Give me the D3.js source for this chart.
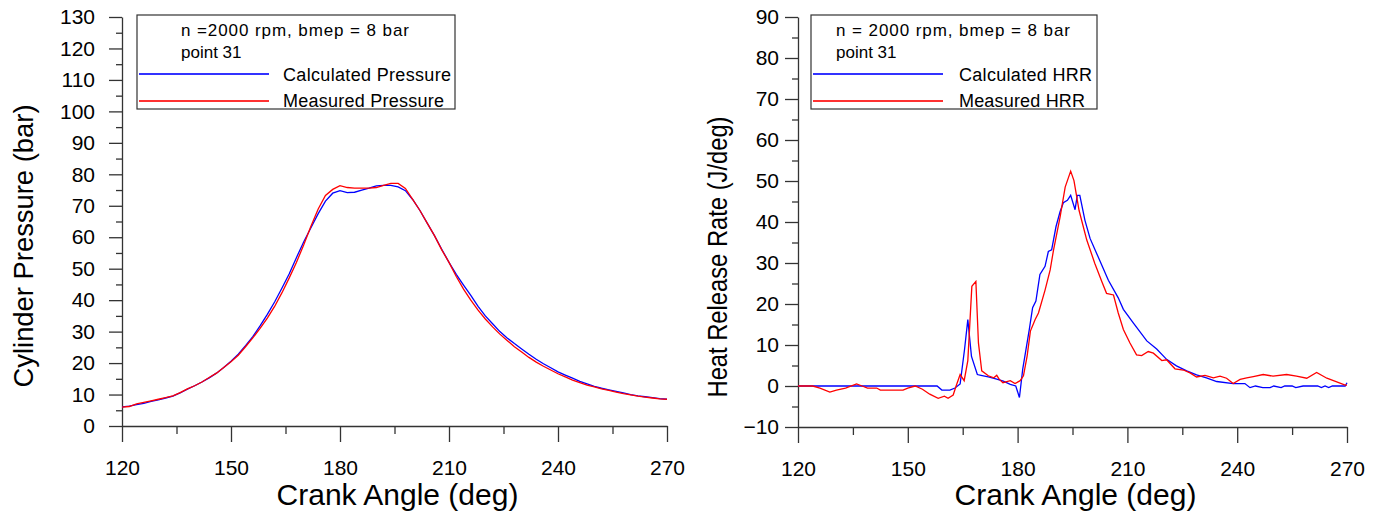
<!DOCTYPE html>
<html>
<head>
<meta charset="utf-8">
<script src="https://cdn.jsdelivr.net/npm/d3@7"></script>
<style>
  html, body { margin: 0; padding: 0; background: #fff; }
  svg { display: block; }
  text { font-family: Arial, "Liberation Sans", sans-serif; fill: #000; }
</style>
</head>
<body>
<svg id="chart" width="1383" height="515"></svg>
<script>
// ---------- Data ----------
const pressureAngles = [120,122,124,126,128,130,132,134,136,138,140,142,144,146,148,150,152,154,156,158,160,162,164,166,168,170,172,174,176,178,180,182,184,186,188,190,192,194,196,198,200,202,204,206,208,210,212,214,216,218,220,222,224,226,228,230,232,234,236,238,240,242,244,246,248,250,252,254,256,258,260,262,264,266,268,270];
const calculatedPressure = [6.1,6.3,6.8,7.2,7.8,8.3,8.9,9.5,10.5,11.7,12.8,14.0,15.3,16.8,18.6,20.6,22.8,25.5,28.4,31.8,35.5,39.4,43.8,48.3,53.5,58.5,63.0,67.5,71.5,74.0,74.8,74.2,74.3,75.0,75.6,76.3,76.5,76.5,76.0,74.8,72.0,68.5,64.5,60.5,56.2,52.0,48.2,44.8,41.5,38.0,35.0,32.5,30.0,28.0,26.2,24.5,22.8,21.2,19.8,18.5,17.2,16.2,15.2,14.2,13.4,12.6,12.0,11.5,11.0,10.5,10.0,9.6,9.3,9.0,8.7,8.5];
const measuredPressure = [6.0,6.2,7.0,7.5,8.0,8.5,9.0,9.6,10.6,11.8,12.8,14.0,15.4,16.8,18.6,20.4,22.5,25.2,28.0,31.0,34.3,38.0,42.3,47.0,52.0,57.5,63.5,69.0,73.3,75.2,76.4,75.8,75.6,75.6,75.6,75.8,76.5,77.1,77.1,75.5,72.0,68.5,64.5,60.5,56.0,52.0,47.5,43.5,40.0,36.8,34.0,31.5,29.2,27.2,25.2,23.5,21.8,20.3,19.0,17.8,16.6,15.6,14.6,13.8,13.0,12.4,11.8,11.3,10.8,10.3,9.9,9.5,9.2,8.9,8.6,8.5];

const hrrCalcAngles = [120,158,159.3,161.5,162.9,164.3,165.5,166.4,167.4,169,170,172,174.3,176.1,178,179.5,180.5,181.4,183.2,184.1,185,186.1,187.5,188.4,189.3,190.5,191.6,192.5,193.6,194.5,195.7,196.3,197,198.4,199.8,202,204.8,207.5,208.9,211.6,215.3,218,220.7,223.4,226.2,228.9,231.6,234.4,238.9,242.1,243.5,245,247,249,250,252,253,255,256,258,262,263,264,265,266,269.5,270];
const calculatedHRR = [0,0,-1,-1,-0.5,0.5,8.9,16.2,7.2,2.8,2.6,2.2,1.7,1.2,0.4,0,-2.8,4.1,13.8,19.1,20.7,27.2,29.2,32.8,33.2,38.9,42.5,44.7,45.3,46.5,43,46.5,46.5,40.4,36,31.5,25.8,21.5,18.7,15.4,11,9,6.5,4.9,3.7,2.7,2,1.1,0.6,0.6,-0.4,0,-0.4,-0.4,0,-0.4,0,0,-0.4,0,0,-0.4,0,-0.4,0,0,0.8];

const hrrMeasAngles = [120,124,126,128.7,130.5,133,136,137.5,139,141.5,142.5,148.7,150,152,154,156,158.3,160,161,162.4,163.2,164.3,165.4,166.4,167.5,168.6,169.3,170.2,172,173.5,174.3,175,176,178,179.3,180.7,181.6,182.6,183.5,184.8,185.7,187.5,188.9,189.8,191.6,193,194.5,195.4,196.8,198.9,201.1,203,204.3,206.2,207.5,208.9,210.7,212.5,213.9,215.7,217.1,219.4,220.7,223,225.3,227.1,228.9,231.2,233.5,235.3,237.1,238.9,240.8,242.6,244.4,247.1,249.8,253.5,256.2,259,261.7,264.5,267.2,269.5,270];
const measuredHRR = [0,0,-0.5,-1.5,-1,-0.5,0.5,0,-0.5,-0.5,-1,-1,-0.5,0,-0.8,-2,-3,-2.5,-3,-2.2,0,2.8,1.3,6.2,24.3,25.5,10.5,3.7,2.5,2,2.6,1.6,0.8,1.3,0.6,1.3,2.5,7.3,13.4,16.2,17.8,23.4,28.3,33.1,41.2,48.5,52.4,50.1,42.8,35.6,29.9,25.5,22.6,22.2,17.8,13.8,10.5,7.6,7.4,8.4,8,6.2,6.4,4.2,3.9,3.2,2.2,2.6,2,2.4,1.9,0.6,1.6,2,2.3,2.8,2.4,2.8,2.4,1.9,3.3,1.9,1,0.2,0.2];

const xTicksMajor = [120,150,180,210,240,270];
const xTicksMinor = [135,165,195,225,255];
const pressureTicksMajor = [0,10,20,30,40,50,60,70,80,90,100,110,120,130];
const pressureTicksMinor = [5,15,25,35,45,55,65,75,85,95,105,115,125];
const hrrTicksMajor = [-10,0,10,20,30,40,50,60,70,80,90];
const hrrTicksMinor = [-5,5,15,25,35,45,55,65,75,85];

const legendHeader1 = "n =2000 rpm, bmep = 8 bar";
const legendHeader2 = "n = 2000 rpm, bmep = 8 bar";
const legendPoint = "point 31";
const seriesNames1 = ["Calculated Pressure", "Measured Pressure"];
const seriesNames2 = ["Calculated HRR", "Measured HRR"];
const seriesColors = ["rgb(0,0,255)", "rgb(255,0,0)"];

// ---------- Drawing ----------
const svg = d3.select("#chart");
const axisColor = "#333";

function drawPanel(cfg) {
  const g = svg.append("g");
  const x = d3.scaleLinear().domain([120, 270]).range(cfg.xRange);
  const y = d3.scaleLinear().domain(cfg.yDomain).range(cfg.yRange);

  // minor y ticks
  g.append("g").attr("class", "ax").attr("transform", `translate(${cfg.xRange[0]},0)`)
    .call(d3.axisLeft(y).tickValues(cfg.yMinor).tickSize(6).tickSizeOuter(0).tickFormat(""))
    .call(s => s.select(".domain").remove());
  // major y ticks
  const ya = g.append("g").attr("class", "ax").attr("transform", `translate(${cfg.xRange[0]},0)`)
    .call(d3.axisLeft(y).tickValues(cfg.yMajor).tickSize(13).tickSizeOuter(0).tickPadding(cfg.yPad));
  ya.selectAll("text").style("font-size", "21px");

  // minor x ticks
  g.append("g").attr("class", "ax").attr("transform", `translate(0,${cfg.yRange[0]})`)
    .call(d3.axisBottom(x).tickValues(xTicksMinor).tickSize(8).tickSizeOuter(0).tickFormat(""))
    .call(s => s.select(".domain").remove());
  const xa = g.append("g").attr("class", "ax").attr("transform", `translate(0,${cfg.yRange[0]})`)
    .call(d3.axisBottom(x).tickValues(xTicksMajor).tickSize(16).tickSizeOuter(0).tickPadding(18));
  xa.selectAll("text").style("font-size", "21px");

  g.selectAll(".ax .domain, .ax .tick line").attr("stroke", axisColor).attr("stroke-width", 1.3);

  // lines
  const line = d3.line().x(d => x(d[0])).y(d => y(d[1]));
  cfg.series.forEach((s, i) => {
    const pts = s.angles.map((a, k) => [a, s.values[k]]);
    g.append("path").datum(pts).attr("d", line)
      .attr("fill", "none").attr("stroke", seriesColors[i]).attr("stroke-width", 1.3);
  });

  // axis titles
  g.append("text").attr("x", (cfg.xRange[0] + cfg.xRange[1]) / 2 + 3).attr("y", 505)
    .attr("text-anchor", "middle").style("font-size", "30px").text("Crank Angle (deg)");
  g.append("text").attr("transform", `translate(${cfg.yTitleX},${cfg.yTitleY}) rotate(-90)`)
    .attr("text-anchor", "middle").style("font-size", cfg.yTitleSize + "px")
    .attr("textLength", cfg.yTitleLen).attr("lengthAdjust", "spacingAndGlyphs")
    .text(cfg.yTitle);

  // legend
  const L = cfg.legend;
  const lg = g.append("g");
  lg.append("rect").attr("x", L.x).attr("y", 15).attr("width", L.w).attr("height", 94)
    .attr("fill", "#fff").attr("stroke", axisColor).attr("stroke-width", 1.2);
  lg.append("text").attr("x", L.tx).attr("y", 36).style("font-size", "17px")
    .attr("textLength", L.headLen).attr("lengthAdjust", "spacing").text(L.header);
  lg.append("text").attr("x", L.tx).attr("y", 58).style("font-size", "17px").text(legendPoint);
  L.names.forEach((n, i) => {
    const ly = [74, 101][i];
    lg.append("rect").attr("x", L.x + 2).attr("y", ly - 0.8).attr("width", L.lx2 - L.x - 2).attr("height", 1.6)
      .style("fill", seriesColors[i]).style("stroke", "none");
    lg.append("text").attr("x", L.nx).attr("y", [81, 107][i]).style("font-size", "18px")
      .attr("textLength", L.nameLen[i]).attr("lengthAdjust", "spacing").text(n);
  });
}

drawPanel({
  xRange: [122, 667], yDomain: [0, 130], yRange: [426, 17],
  yMajor: pressureTicksMajor, yMinor: pressureTicksMinor, yPad: 14,
  yTitle: "Cylinder Pressure (bar)", yTitleX: 33, yTitleY: 246, yTitleSize: 28, yTitleLen: 283,
  series: [{angles: pressureAngles, values: calculatedPressure}, {angles: pressureAngles, values: measuredPressure}],
  legend: {x: 137, w: 318, tx: 181, lx2: 269, nx: 283, header: legendHeader1, headLen: 228,
           names: seriesNames1, nameLen: [168, 161]}
});

drawPanel({
  xRange: [798, 1347], yDomain: [-10, 90], yRange: [427, 17],
  yMajor: hrrTicksMajor, yMinor: hrrTicksMinor, yPad: 6,
  yTitle: "Heat Release Rate (J/deg)", yTitleX: 727, yTitleY: 257, yTitleSize: 27, yTitleLen: 281,
  series: [{angles: hrrCalcAngles, values: calculatedHRR}, {angles: hrrMeasAngles, values: measuredHRR}],
  legend: {x: 811, w: 286, tx: 836, lx2: 943, nx: 959, header: legendHeader2, headLen: 234,
           names: seriesNames2, nameLen: [133, 126]}
});
</script>
</body>
</html>
